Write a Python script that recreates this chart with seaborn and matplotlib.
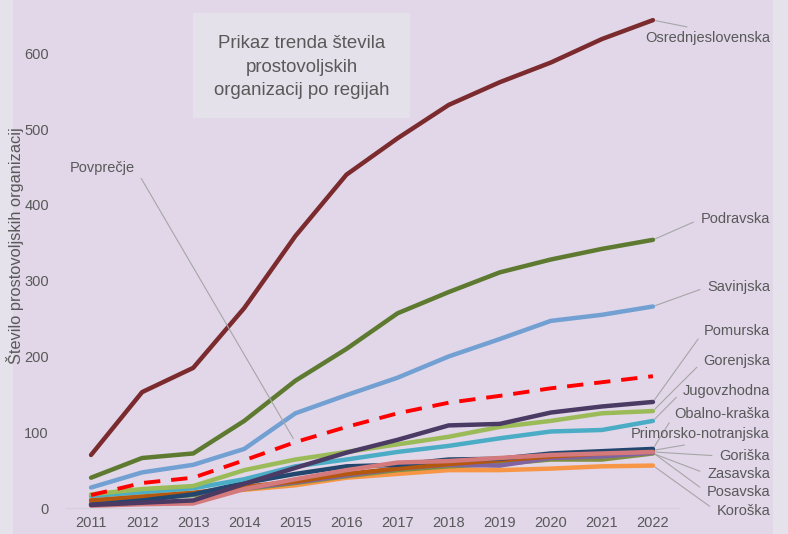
import pandas as pd
import numpy as np
import matplotlib
matplotlib.use("Agg")
import matplotlib.pyplot as plt
from matplotlib.patches import Rectangle
import seaborn as sns

# podatki (odčitani s slike)
leta = list(range(2011, 2023))
osrednjeslovenska = [70, 153, 185, 264, 359, 440, 488, 532, 562, 588, 619, 644]
podravska = [40, 66, 72, 115, 168, 210, 257, 285, 311, 328, 342, 354]
savinjska = [27, 47, 57, 78, 125, 149, 172, 200, 223, 247, 255, 266]
pomurska = [4, 7, 10, 32, 53, 73, 90, 109, 111, 126, 134, 140]
gorenjska = [18, 25, 29, 50, 64, 74, 84, 94, 107, 115, 125, 128]
jugovzhodna = [16, 21, 26, 38, 55, 64, 74, 82, 92, 101, 103, 115]
obalno_kraska = [4, 10, 18, 33, 45, 55, 57, 64, 65, 72, 75, 78]
primorsko_notranjska = [10, 15, 20, 28, 35, 45, 52, 58, 63, 68, 72, 76]
goriska = [3, 5, 6, 25, 38, 50, 60, 62, 66, 70, 72, 74]
zasavska = [7, 12, 17, 25, 33, 42, 50, 55, 58, 64, 64, 72]
posavska = [5, 12, 19, 26, 34, 43, 52, 57, 56, 66, 68, 73]
koroska = [12, 18, 20, 24, 30, 40, 45, 50, 50, 52, 55, 56]
povprecje = [17, 33, 40, 63, 87, 107, 125, 139, 148, 158, 166, 174]

regije = {
    "Koroška": koroska,
    "Zasavska": zasavska,
    "Posavska": posavska,
    "Primorsko-notranjska": primorsko_notranjska,
    "Obalno-kraška": obalno_kraska,
    "Goriška": goriska,
    "Jugovzhodna": jugovzhodna,
    "Gorenjska": gorenjska,
    "Pomurska": pomurska,
    "Savinjska": savinjska,
    "Podravska": podravska,
    "Osrednjeslovenska": osrednjeslovenska,
}
barve = {
    "Osrednjeslovenska": "#7B2A2E",
    "Podravska": "#5E7A30",
    "Savinjska": "#72A0D2",
    "Pomurska": "#4B3A63",
    "Gorenjska": "#9BBB59",
    "Jugovzhodna": "#4BACC6",
    "Obalno-kraška": "#23466E",
    "Primorsko-notranjska": "#B4580F",
    "Goriška": "#D47A7C",
    "Zasavska": "#808F3F",
    "Posavska": "#8064A2",
    "Koroška": "#F79646",
}

rows = []
for ime, vals in regije.items():
    for l, v in zip(leta, vals):
        rows.append({"leto": l, "regija": ime, "st": v})
df = pd.DataFrame(rows)
df_avg = pd.DataFrame({"leto": leta, "st": povprecje})

sns.set_theme(style="white")
plt.rcParams["font.family"] = ["Liberation Sans", "DejaVu Sans"]

W, H = 788, 534
fig = plt.figure(figsize=(W / 100, H / 100), dpi=100)
fig.patch.set_facecolor("#E5E2EC")
fig.patches.append(Rectangle((13 / W, 0), 760 / W, 1, transform=fig.transFigure,
                             facecolor="#E1D7E8", edgecolor="none", zorder=-10))
# okvir naslova
fig.patches.append(Rectangle((193 / W, (H - 118) / H), 217 / W, 105 / H,
                             transform=fig.transFigure, facecolor="#E4E1EA",
                             edgecolor="none", zorder=-5))

ax = fig.add_axes([65.5 / W, (H - 508) / H, 613 / W, 500 / H])
ax.set_facecolor("none")

sns.lineplot(data=df, x="leto", y="st", hue="regija", palette=barve,
             hue_order=list(regije.keys()), linewidth=3.2, legend=False, ax=ax)
sns.lineplot(data=df_avg, x="leto", y="st", color="#FF0000", linewidth=2.8,
             dashes=False, ax=ax)
ax.lines[-1].set_linestyle((0, (4.2, 2.8)))

ax.set_xlim(2010.5, 2022.5)
ax.set_ylim(0, 660)
ax.set_xticks(leta)
ax.set_yticks(range(0, 700, 100))
ax.tick_params(axis="both", length=0, labelsize=10.5, colors="#595959")
ax.tick_params(axis="x", pad=6)
ax.tick_params(axis="y", pad=12)
ax.set_xlabel("")
ax.set_ylabel("")
for s in ["top", "right", "left"]:
    ax.spines[s].set_visible(False)
ax.spines["bottom"].set_color("#D4D0DA")
ax.spines["bottom"].set_linewidth(0.8)

fig.text(15 / W, (H - 246) / H, "Število prostovoljskih organizacij", rotation=90,
         ha="center", va="center", fontsize=11.8, color="#595959")

fig.text(301.5 / W, (H - 67) / H, "Prikaz trenda števila\nprostovoljskih\norganizacij po regijah",
         ha="center", va="center", fontsize=13.4, color="#595959", linespacing=1.5)

# oznake
oznake = [
    ("Osrednjeslovenska", 38, (0.5, 1.0)),
    ("Podravska", 219, (0, 0.5)),
    ("Savinjska", 287, (0, 0.5)),
    ("Pomurska", 331, (0, 0.5)),
    ("Gorenjska", 361, (0, 0.5)),
    ("Jugovzhodna", 391, (0, 0.5)),
    ("Obalno-kraška", 414, (0, 0.5)),
    ("Primorsko-notranjska", 434, (0.55, 0.0)),
    ("Goriška", 456, (0, 0.5)),
    ("Zasavska", 474, (0, 0.5)),
    ("Posavska", 492, (0, 0.5)),
    ("Koroška", 511, (0, 0.5)),
]
for ime, ypix, rp in oznake:
    ax.annotate(ime, xy=(2022, regije[ime][-1]), xycoords="data",
                xytext=(770, H - ypix), textcoords="figure pixels",
                ha="right", va="center", fontsize=10.5, color="#595959",
                arrowprops=dict(arrowstyle="-", color="#A6A6A6", lw=0.8,
                                relpos=rp, shrinkA=3, shrinkB=2))

ax.annotate("Povprečje", xy=(2015, povprecje[4]), xycoords="data",
            xytext=(70, H - 168), textcoords="figure pixels",
            ha="left", va="center", fontsize=10.5, color="#595959",
            arrowprops=dict(arrowstyle="-", color="#A6A6A6", lw=0.8,
                            relpos=(1, 0.5), shrinkA=4, shrinkB=3))

fig.savefig("out.png", dpi=100, facecolor=fig.get_facecolor())
